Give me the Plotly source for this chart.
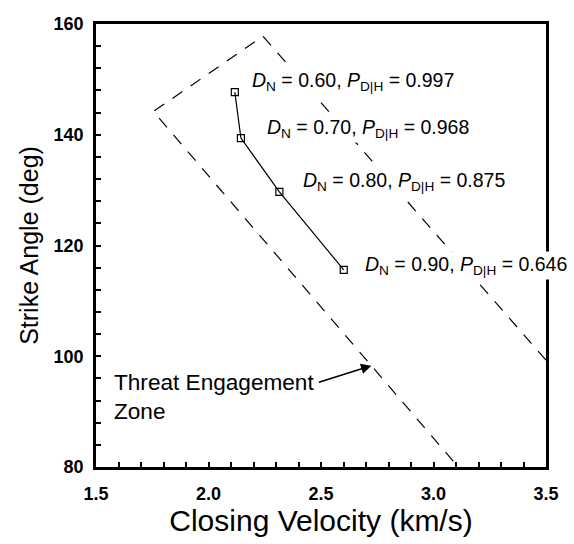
import plotly.graph_objects as go

# Data
velocity = [2.117, 2.144, 2.315, 2.601]
strike_angle = [147.7, 139.4, 129.7, 115.6]
dn_values = ["0.60", "0.70", "0.80", "0.90"]
pdh_values = ["0.997", "0.968", "0.875", "0.646"]
label_x = [2.183, 2.253, 2.411, 2.687]
label_y = [149.6, 141.2, 131.6, 116.4]

zone_x = [3.5, 2.242, 1.755, 3.11]
zone_y = [99.3, 157.8, 144.2, 80.0]

x_ticks = [1.5, 2.0, 2.5, 3.0, 3.5]
y_ticks = [80, 100, 120, 140, 160]

FONT = "Liberation Sans, Arial, sans-serif"

fig = go.Figure()

fig.add_trace(go.Scatter(
    x=zone_x, y=zone_y, mode="lines",
    line=dict(color="black", width=1.2, dash="12px,10px"),
    hoverinfo="skip", showlegend=False,
))

fig.add_trace(go.Scatter(
    x=velocity, y=strike_angle, mode="lines+markers",
    line=dict(color="black", width=1.2),
    marker=dict(symbol="square-open", size=7, color="black", line=dict(width=1.2)),
    showlegend=False,
))

for dn, pdh, lx, ly in zip(dn_values, pdh_values, label_x, label_y):
    fig.add_annotation(
        x=lx, y=ly, xref="x", yref="y",
        text=f"<i>D</i><sub>N</sub> = {dn}, <i>P</i><sub>D|H</sub> = {pdh}",
        showarrow=False, xanchor="left", yanchor="middle",
        bgcolor="white", borderpad=1,
        font=dict(family=FONT, size=19.5, color="black"),
    )

fig.add_annotation(
    x=2.724, y=98.3, ax=2.484, ay=95.2,
    xref="x", yref="y", axref="x", ayref="y",
    text="", showarrow=True, arrowhead=2, arrowsize=1.3, arrowwidth=1.6,
    arrowcolor="black",
)
fig.add_annotation(
    x=1.573, y=92.6, xref="x", yref="y",
    text="Threat Engagement<br>Zone", showarrow=False,
    xanchor="left", yanchor="middle", align="left",
    font=dict(family=FONT, size=22.6, color="black"),
)

fig.update_xaxes(
    range=[1.5, 3.5], tickvals=x_ticks, ticktext=[f"{v:.1f}" for v in x_ticks],
    ticks="inside", ticklen=5, tickwidth=2, tickcolor="black",
    minor=dict(dtick=0.1, ticks="inside", ticklen=5, tickwidth=2, tickcolor="black"),
    showline=True, linecolor="black", linewidth=2.8, mirror=True,
    showgrid=False, zeroline=False,
    tickfont=dict(family=FONT, size=18, color="black", weight="bold"),
    ticklabelstandoff=8,
    title=dict(text="Closing Velocity (km/s)", standoff=2,
               font=dict(family=FONT, size=30, color="black")),
)
fig.update_yaxes(
    range=[80, 160], tickvals=y_ticks,
    ticks="inside", ticklen=5, tickwidth=2, tickcolor="black",
    minor=dict(dtick=4, ticks="inside", ticklen=5, tickwidth=2, tickcolor="black"),
    showline=True, linecolor="black", linewidth=2.8, mirror=True,
    showgrid=False, zeroline=False,
    tickfont=dict(family=FONT, size=18, color="black", weight="bold"),
    ticklabelstandoff=6,
    title=dict(text="Strike Angle (deg)", standoff=8,
               font=dict(family=FONT, size=25, color="black")),
)

fig.update_layout(
    width=574, height=544,
    margin=dict(l=96, r=28, t=24, b=77),
    plot_bgcolor="white", paper_bgcolor="white",
    showlegend=False,
)

fig.write_html("out.html")
